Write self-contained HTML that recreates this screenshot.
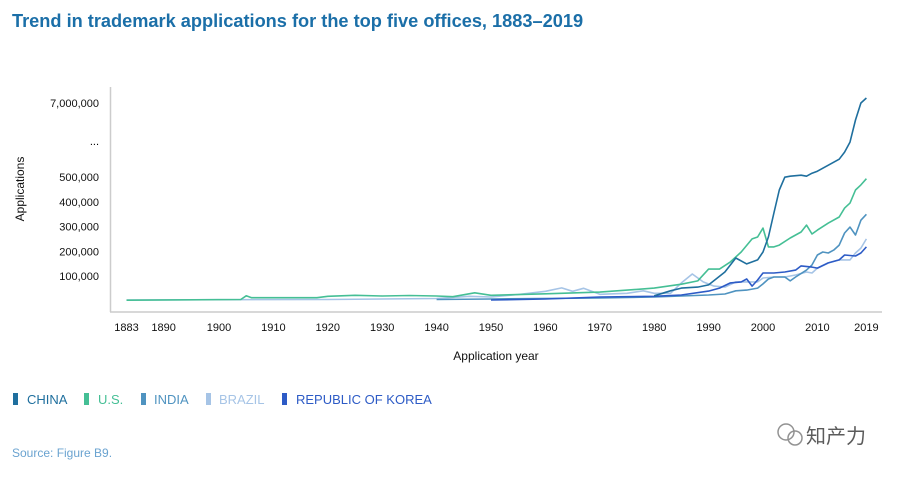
<!DOCTYPE html>
<html><head><meta charset="utf-8"><style>
body{margin:0;background:#fff;font-family:"Liberation Sans",sans-serif;}
svg text{font-family:"Liberation Sans","Noto Sans CJK SC",sans-serif;}
</style></head><body>
<svg width="899" height="473" viewBox="0 0 899 473" xmlns="http://www.w3.org/2000/svg">
<text x="12" y="27" font-size="18.2" font-weight="bold" fill="#1b6fa8">Trend in trademark applications for the top five offices, 1883–2019</text>
<line x1="110.5" y1="87" x2="110.5" y2="312" stroke="#ccc" stroke-width="1.5"/>
<line x1="110" y1="312" x2="882" y2="312" stroke="#ccc" stroke-width="1.5"/>
<g id="yt"></g>
<g id="xt"></g>
<g id="lines"></g>
<text x="24" y="189" font-size="12" fill="#111" transform="rotate(-90 24 189)" text-anchor="middle">Applications</text>
<text x="496" y="360" font-size="12" fill="#111" text-anchor="middle">Application year</text>
<g font-size="13">
<g><rect x="13" y="393" width="5" height="12" fill="#1f6f9e"/><text x="27" y="404" fill="#1f6f9e">CHINA</text></g>
<g><rect x="84" y="393" width="5" height="12" fill="#45bf95"/><text x="98" y="404" fill="#45bf95">U.S.</text></g>
<g><rect x="141" y="393" width="5" height="12" fill="#4f93c0"/><text x="154" y="404" fill="#4f93c0">INDIA</text></g>
<g><rect x="206" y="393" width="5" height="12" fill="#a6c4e6"/><text x="219" y="404" fill="#a6c4e6">BRAZIL</text></g>
<g><rect x="282" y="393" width="5" height="12" fill="#2d5bc6"/><text x="296" y="404" fill="#2d5bc6">REPUBLIC OF KOREA</text></g>
</g>
<text x="12" y="457" font-size="12" fill="#6aa3d0">Source: Figure B9.</text>
<g opacity="0.8">
<circle cx="786" cy="432" r="8" fill="none" stroke="#777" stroke-width="1.5"/>
<circle cx="795" cy="438" r="7" fill="none" stroke="#777" stroke-width="1.5"/>
<text x="806" y="443" font-size="20" fill="#333">知产力</text>
</g>
</svg>
<script>
const NS="http://www.w3.org/2000/svg";
const yTickValues=[100000,200000,300000,400000,500000,7000000];
const yTickLabels=["100,000","200,000","300,000","400,000","500,000","7,000,000"];
const xTickYears=[1883,1890,1900,1910,1920,1930,1940,1950,1960,1970,1980,1990,2000,2010,2019];
const seriesNames=["Brazil","India","Korea","US","China"];
const seriesColors=["#a6c4e6","#4f93c0","#2d5bc6","#45bf95","#1f6f9e"];
const brazilYears=[1883,1900,1920,1940,1946,1950,1955,1960,1963,1965,1967,1970,1975,1978,1980,1983,1985,1987,1989,1991,1993,1995,1997,1999,2000,2002,2004,2006,2008,2009,2010,2012,2014,2016,2017,2018,2019];
const brazilValues=[3000,4000,5000,9000,18000,15000,25000,38000,52000,38000,50000,26000,30000,40000,30000,30000,72000,108000,76000,59000,55000,76000,76000,76000,92000,96000,96000,104000,116000,112000,132000,153000,165000,165000,193000,213000,250000];
const indiaYears=[1940,1950,1970,1980,1985,1990,1993,1995,1997,1999,2000,2001,2002,2004,2005,2006,2008,2009,2010,2011,2012,2013,2014,2015,2016,2017,2018,2019];
const indiaValues=[5000,7000,11000,15000,19000,23000,27000,40000,43000,51000,68000,88000,96000,96000,80000,96000,124000,145000,185000,197000,193000,205000,225000,274000,298000,266000,326000,350000];
const koreaYears=[1950,1960,1970,1980,1985,1990,1992,1994,1996,1997,1998,1999,2000,2002,2004,2006,2007,2009,2010,2012,2014,2015,2017,2018,2019];
const koreaValues=[3000,7000,15000,18000,23000,39000,51000,72000,76000,88000,59000,84000,112000,112000,116000,124000,141000,136000,132000,153000,165000,185000,181000,193000,218000];
const usYears=[1883,1904,1905,1906,1918,1920,1925,1930,1935,1940,1943,1947,1950,1960,1970,1980,1985,1988,1990,1992,1994,1996,1998,1999,2000,2001,2002,2003,2005,2007,2008,2009,2010,2012,2014,2015,2016,2017,2018,2019];
const usValues=[2000,5000,20000,12000,12000,18000,22000,19000,21000,19000,16000,32000,22000,28000,35000,51000,67000,80000,128000,128000,157000,197000,250000,258000,294000,218000,218000,225000,254000,278000,306000,270000,286000,314000,339000,375000,395000,448000,469000,494000];
const chinaYears=[1980,1983,1985,1988,1990,1993,1995,1997,1999,2000,2001,2002,2003,2004,2005,2007,2008,2009,2010,2012,2014,2015,2016,2017,2018,2019];
const chinaValues=[20000,40000,51000,55000,64000,116000,173000,149000,165000,197000,258000,355000,448000,500000,588000,676000,588000,851000,1027000,1554000,2081000,2696000,3574000,5507000,7000000,7439000];
function xs(yr){return 219+(yr-1900)*5.44;}
function ys(v){ if(v<=500000) return 300.7-v/100000*24.7; return 177.2-(v-500000)/6500000*74.2; }
const yt=document.getElementById('yt');
yTickValues.forEach((v,i)=>{const t=document.createElementNS(NS,'text');t.setAttribute('x',99);t.setAttribute('y',ys(v)+4);t.setAttribute('text-anchor','end');t.setAttribute('font-size','11');t.setAttribute('fill','#111');t.textContent=yTickLabels[i];


yt.appendChild(t);});
const dots=document.createElementNS(NS,'text');dots.setAttribute('x',99);dots.setAttribute('y',145);dots.setAttribute('text-anchor','end');dots.setAttribute('font-size','11');dots.textContent='...';


yt.appendChild(dots);
const xt=document.getElementById('xt');
xTickYears.forEach(yr=>{const t=document.createElementNS(NS,'text');let x=xs(yr);if(yr===1890)x-=1;t.setAttribute('x',x);t.setAttribute('y',331);t.setAttribute('text-anchor','middle');t.setAttribute('font-size','11');t.setAttribute('fill','#111');t.textContent=yr;


xt.appendChild(t);});
const all=[[brazilYears,brazilValues],[indiaYears,indiaValues],[koreaYears,koreaValues],[usYears,usValues],[chinaYears,chinaValues]];
const lg=document.getElementById('lines');
all.forEach((s,i)=>{const p=document.createElementNS(NS,'polyline');p.setAttribute('points',s[0].map((yr,j)=>xs(yr).toFixed(1)+','+ys(s[1][j]).toFixed(1)).join(' '));p.setAttribute('fill','none');p.setAttribute('stroke',seriesColors[i]);p.setAttribute('stroke-width','1.6');p.setAttribute('stroke-linejoin','round');


lg.appendChild(p);});
</script>
</body></html>
